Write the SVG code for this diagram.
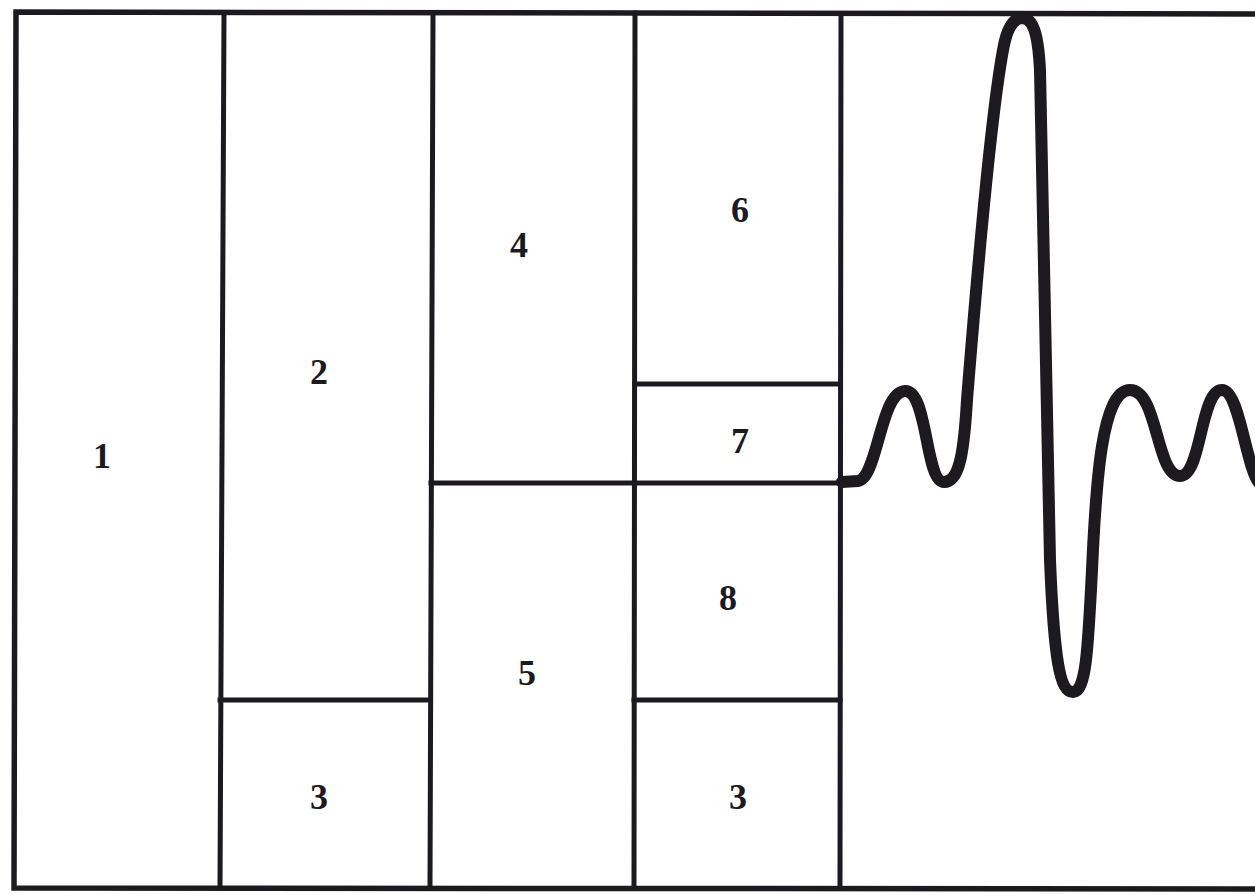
<svg xmlns="http://www.w3.org/2000/svg" width="1255" height="895" viewBox="0 0 1255 895">
<style>
.frame{fill:none;stroke:#1c1a1f;stroke-width:5.5;stroke-linecap:square}
.line{fill:none;stroke:#1c1a1f;stroke-width:5;stroke-linecap:square}
.wave{fill:none;stroke:#1c1a1f;stroke-width:12;stroke-linejoin:round;stroke-linecap:round}
.lbl{font-family:"Liberation Serif","DejaVu Serif",serif;font-weight:bold;font-size:36px;fill:#1c1a1f;text-anchor:middle}
</style>
<rect width="1255" height="895" fill="#ffffff"/>
<g id="frame">
<path class="frame" d="M1260 14 L16 12 L14 888 L1260 889"/>
</g>
<g id="connectors">
<path class="line" d="M224 13 L220 888"/>
<path class="line" d="M433 13 L430 888"/>
<path class="line" d="M635 13 L634 888"/>
<path class="line" d="M841 14 L840 888"/>
<path class="line" d="M220 700 L430 700"/>
<path class="line" d="M431 483 L843 483"/>
<path class="line" d="M635 384 L840 384"/>
<path class="line" d="M634 700 L840 700"/>
</g>
<g id="waveform">
<path class="wave" d="M842 482 L858 481 C878 478 880 392 905 391 C928 390 925 482 944 482 C960 482 964 450 967 400 C975 300 990 120 1003 50 C1008 20 1018 18 1022 18 C1032 18 1038 30 1040 70 C1044 200 1046 400 1050 560 C1054 660 1060 692 1073 692 C1086 692 1088 650 1092 570 C1096 480 1102 390 1130 390 C1158 390 1156 476 1180 476 C1202 476 1200 390 1222 390 C1240 390 1246 470 1260 484"/>
</g>
<g id="n1"><text class="lbl" x="102" y="468">1</text></g>
<g id="n2"><text class="lbl" x="319" y="384">2</text></g>
<g id="n3a"><text class="lbl" x="319" y="809">3</text></g>
<g id="n4"><text class="lbl" x="519" y="257">4</text></g>
<g id="n5"><text class="lbl" x="527" y="685">5</text></g>
<g id="n6"><text class="lbl" x="740" y="222">6</text></g>
<g id="n7"><text class="lbl" x="740" y="453">7</text></g>
<g id="n8"><text class="lbl" x="728" y="610">8</text></g>
<g id="n3b"><text class="lbl" x="738" y="809">3</text></g>
</svg>
